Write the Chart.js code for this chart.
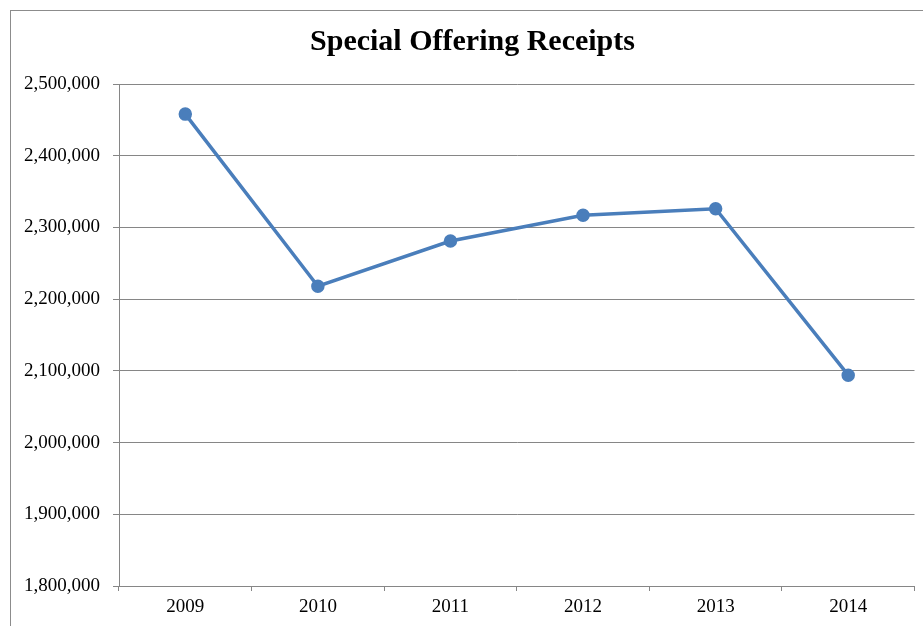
<!DOCTYPE html>
<html>
<head>
<meta charset="utf-8">
<script src="https://cdn.jsdelivr.net/npm/chart.js@4.4.1/dist/chart.umd.min.js"></script>
<style>
  html, body { margin: 0; padding: 0; background: #fff; overflow: hidden; }
  #wrap { position: relative; width: 923px; height: 626px; }
</style>
</head>
<body>
<div id="wrap"><canvas id="chartContainer"></canvas></div>
<script>
const years = ['2009', '2010', '2011', '2012', '2013', '2014'];
const receipts = [2458000, 2218000, 2281000, 2317000, 2326000, 2094000];
const yMin = 1800000;
const yMax = 2500000;
const yStep = 100000;

// grey frame around the whole chart (runs off the right/bottom edge like the original)
// and nudge the title so it is centred on the original, wider frame
const frame = {
    id: 'frame',
    afterLayout(chart) {
        if (chart.titleBlock) chart.titleBlock.left = 28;
    },
    beforeDraw(chart) {
        const c = chart.ctx;
        c.save();
        c.strokeStyle = '#8c8c8c';
        c.lineWidth = 1;
        c.strokeRect(10.5, 10.5, 1000, 1000);
        c.restore();
    }
};

const serif = '"Liberation Serif", "Times New Roman", serif';

const ctx = document.getElementById('chartContainer').getContext('2d');
new Chart(ctx, {
    type: 'line',
    data: {
        labels: years,
        datasets: [{
            label: 'Special Offering Receipts',
            data: receipts,
            borderColor: '#4a7ebb',
            backgroundColor: '#4a7ebb',
            borderWidth: 3.5,
            pointRadius: 5,
            pointHoverRadius: 5,
            tension: 0
        }]
    },
    options: {
        responsive: true,
        maintainAspectRatio: false,
        animation: false,
        layout: { padding: { left: 0, right: 6, top: 10, bottom: 0 } },
        plugins: {
            legend: { display: false },
            tooltip: { enabled: false },
            title: {
                display: true,
                text: 'Special Offering Receipts',
                color: '#000',
                font: { family: serif, size: 30, weight: 'bold' },
                padding: { top: 14.5, bottom: 23.5 }
            }
        },
        scales: {
            x: {
                offset: true,
                grid: { offset: true, drawOnChartArea: false, drawTicks: true, tickLength: 5, color: '#868686' },
                border: { color: '#868686', width: 1 },
                ticks: {
                    color: '#000',
                    padding: 5,
                    font: { family: serif, size: 19 }
                },
                afterFit(scale) { scale.height = 40; }
            },
            y: {
                min: yMin,
                max: yMax,
                grid: { color: '#868686', tickLength: 6 },
                border: { color: '#868686', width: 1 },
                ticks: {
                    stepSize: yStep,
                    color: '#000',
                    padding: 13,
                    font: { family: serif, size: 19 },
                    callback: v => v.toLocaleString('en-US')
                },
                afterFit(scale) { scale.width = 119; }
            }
        }
    },
    plugins: [frame]
});
</script>
</body>
</html>
